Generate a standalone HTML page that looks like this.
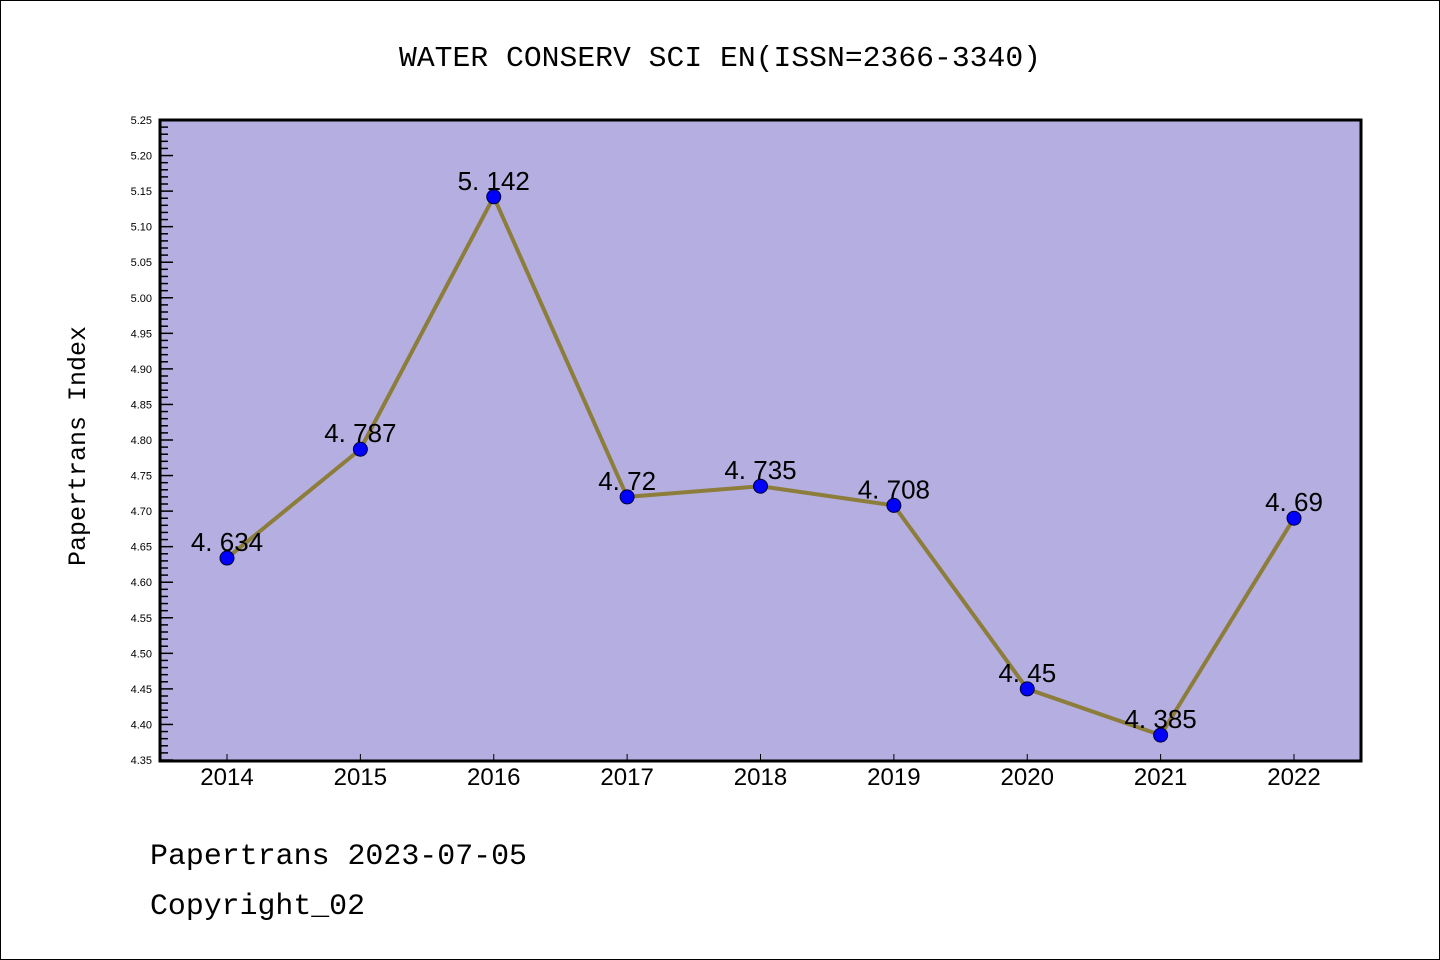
<!DOCTYPE html>
<html><head><meta charset="utf-8"><style>
body{margin:0;background:#fff}
svg{display:block}
</style></head><body>
<svg id="chart" width="1440" height="960" xmlns="http://www.w3.org/2000/svg">
<rect x="0.5" y="0.5" width="1439" height="959" fill="#fff" stroke="#000" stroke-width="1"/>
<text x="720" y="66" text-anchor="middle" font-family="Liberation Mono, monospace" font-size="29" textLength="642" lengthAdjust="spacingAndGlyphs">WATER CONSERV SCI EN(ISSN=2366-3340)</text>
<rect x="160" y="120" width="1201" height="641" fill="#b5aee1"/>
<g id="yticks"></g><g id="xticks"></g>
<g id="series"></g>
<rect x="160" y="120" width="1201" height="641" fill="none" stroke="#000" stroke-width="3"/>
<text transform="translate(85,446) rotate(-90)" text-anchor="middle" font-family="Liberation Mono, monospace" font-size="25" textLength="240" lengthAdjust="spacingAndGlyphs">Papertrans Index</text>
<text x="150" y="864" font-family="Liberation Mono, monospace" font-size="30" textLength="377" lengthAdjust="spacingAndGlyphs">Papertrans 2023-07-05</text>
<text x="150" y="914" font-family="Liberation Mono, monospace" font-size="30" textLength="215" lengthAdjust="spacingAndGlyphs">Copyright_02</text>
</svg>
<script>
const years=["2014","2015","2016","2017","2018","2019","2020","2021","2022"];
const values=[4.634,4.787,5.142,4.72,4.735,4.708,4.45,4.385,4.69];
const labels=["4. 634","4. 787","5. 142","4. 72","4. 735","4. 708","4. 45","4. 385","4. 69"];
const yMin=4.35,yMax=5.25;
const NS="http://www.w3.org/2000/svg";
function y(v){return 760-(v-yMin)/(yMax-yMin)*640;}
function x(i){return 227+i*(1294-227)/(years.length-1);}
function mk(t,a,p){const e=document.createElementNS(NS,t);for(const k in a)e.setAttribute(k,a[k]);p.appendChild(e);return e;}
const yt=document.getElementById('yticks');
for(let k=0;k<=90;k++){
  const v=yMin+k*0.01,yy=y(v),major=k%5===0;
  const l=mk('line',{x1:161,x2:major?173:168,y1:yy,y2:yy,stroke:'#000','stroke-width':1.5},yt);
  
  
  if(major){const t=mk('text',{x:152,y:yy+4,'text-anchor':'end','font-family':'Liberation Sans, sans-serif','font-size':11},yt);t.textContent=v.toFixed(2);
  
  }
}
const xt=document.getElementById('xticks');
years.forEach((yr,i)=>{
  const l=mk('line',{x1:x(i),x2:x(i),y1:760,y2:754,stroke:'#000','stroke-width':1},xt);
  
  
  const t=mk('text',{x:x(i),y:785,'text-anchor':'middle','font-family':'Liberation Sans, sans-serif','font-size':24},xt);t.textContent=yr;
  
  
});
const s=document.getElementById('series');
const pl=mk('polyline',{points:values.map((v,i)=>x(i)+','+y(v)).join(' '),fill:'none',stroke:'#8c7d3a','stroke-width':4},s);


values.forEach((v,i)=>{
  const c=mk('circle',{cx:x(i),cy:y(v),r:7,fill:'#0000ff',stroke:'#000033','stroke-width':1},s);
  
  
  const t=mk('text',{x:x(i),y:y(v)-7,'text-anchor':'middle','font-family':'Liberation Sans, sans-serif','font-size':26},s);t.textContent=labels[i];
  
  
});
</script>
</body></html>
